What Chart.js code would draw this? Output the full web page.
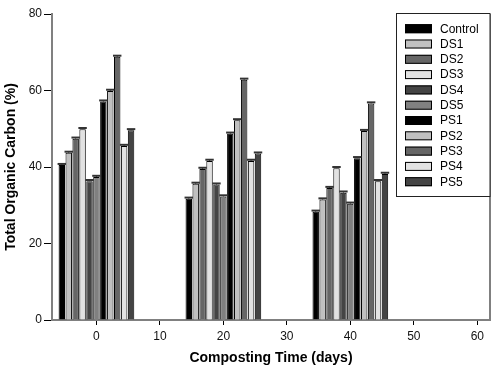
<!DOCTYPE html>
<html><head><meta charset="utf-8">
<script src="https://cdn.jsdelivr.net/npm/chart.js@4"></script>
<style>html,body{margin:0;padding:0;background:#fff}#wrap{width:500px;height:376px}</style>
</head><body><div id="wrap"><canvas id="c" width="500" height="376"></canvas></div>
<script>
const days = [0, 20, 40];
const seriesNames = ['Control','DS1','DS2','DS3','DS4','DS5','PS1','PS2','PS3','PS4','PS5'];
const control = [40.5, 31.7, 28.3];
const ds1 = [43.7, 35.6, 31.5];
const ds2 = [47.4, 39.5, 34.5];
const ds3 = [49.9, 41.6, 39.7];
const ds4 = [36.3, 35.4, 33.3];
const ds5 = [37.4, 32.3, 30.4];
const ps1 = [57.1, 48.7, 42.3];
const ps2 = [59.9, 52.2, 49.4];
const ps3 = [68.8, 62.8, 56.6];
const ps4 = [45.5, 41.6, 36.3];
const ps5 = [49.6, 43.5, 38.2];
const seriesValues = [control, ds1, ds2, ds3, ds4, ds5, ps1, ps2, ps3, ps4, ps5];
const seriesErrors = [
  [0.3,0.3,0.3],[0.3,0.3,0.3],[0.3,0.3,0.3],[0.3,0.3,0.3],[0.3,0.3,0.3],[0.3,0.3,0.3],
  [0.3,0.3,0.3],[0.3,0.3,0.3],[0.3,0.3,0.3],[0.3,0.3,0.3],[0.3,0.3,0.3]
];
const seriesColors = ['#000000','#c0c0c0','#666666','#e2e2e2','#444444','#808080','#000000','#c0c0c0','#666666','#e2e2e2','#444444'];
const xTicks = [0, 10, 20, 30, 40, 50, 60];
const yTicks = [0, 20, 40, 60, 80];
const FONT = "'Liberation Sans', Arial, sans-serif";

const datasets = seriesNames.map((name, i) => ({
  label: name,
  data: days.map((d, j) => ({x: d, y: seriesValues[i][j]})),
  errors: seriesErrors[i],
  backgroundColor: seriesColors[i],
  borderColor: '#000',
  borderWidth: 1,
  categoryPercentage: 1.2,
  barPercentage: 0.93
}));

const capsPlugin = {
  id: 'caps',
  afterDatasetsDraw(chart) {
    const ctx = chart.ctx, ys = chart.scales.y;
    ctx.save();
    chart.data.datasets.forEach((ds, i) => {
      const meta = chart.getDatasetMeta(i);
      meta.data.forEach((bar, j) => {
        const v = ds.data[j].y, e = ds.errors[j];
        const yTop = ys.getPixelForValue(v + e);
        const half = bar.width / 2 + 1;
        ctx.strokeStyle = '#333';
        ctx.lineWidth = 1;
        ctx.beginPath();
        ctx.moveTo(bar.x, ys.getPixelForValue(v));
        ctx.lineTo(bar.x, yTop);
        ctx.stroke();
        ctx.lineWidth = 2;
        ctx.beginPath();
        ctx.moveTo(bar.x - half, yTop);
        ctx.lineTo(bar.x + half, yTop);
        ctx.stroke();
      });
    });
    ctx.restore();
  }
};

const framePlugin = {
  id: 'frame',
  afterDraw(chart) {
    const ctx = chart.ctx, a = chart.chartArea;
    ctx.save();
    ctx.strokeStyle = '#808080';
    ctx.lineWidth = 2;
    ctx.beginPath();
    ctx.moveTo(a.right, a.top);
    ctx.lineTo(a.right, a.bottom);
    ctx.stroke();
    const x0 = 396.5, y0 = 13.5, x1 = a.right, y1 = 196.5;
    ctx.fillStyle = '#fff';
    ctx.fillRect(x0, y0, x1 - x0, y1 - y0);
    ctx.strokeStyle = '#222';
    ctx.lineWidth = 1;
    ctx.strokeRect(x0, y0, x1 - x0, y1 - y0);
    ctx.font = '12px ' + FONT;
    ctx.textBaseline = 'middle';
    ctx.textAlign = 'left';
    chart.data.datasets.forEach((ds, i) => {
      const cy = 28.7 + i * 15.3;
      ctx.fillStyle = ds.backgroundColor;
      ctx.fillRect(405, cy - 4.5, 27, 9);
      ctx.strokeStyle = '#000';
      ctx.strokeRect(405.5, cy - 4, 26, 8);
      ctx.fillStyle = '#000';
      ctx.fillText(ds.label, 440, cy + 0.5);
    });
    ctx.restore();
  }
};

new Chart(document.getElementById('c'), {
  type: 'bar',
  data: { datasets },
  options: {
    responsive: false,
    animation: false,
    layout: { padding: { top: 14, right: 10, left: 0, bottom: 0 } },
    plugins: { legend: { display: false }, tooltip: { enabled: false } },
    scales: {
      x: {
        type: 'linear',
        offset: false,
        min: -7, max: 62,
        afterBuildTicks: s => { s.ticks = xTicks.map(v => ({value: v})); },
        afterFit: s => { s.height = 56; },
        grid: { offset: false, drawOnChartArea: false, drawTicks: true, tickLength: 5, color: '#000' },
        border: { display: true, color: '#808080', width: 2 },
        ticks: { color: '#111', font: { family: FONT, size: 12 }, padding: 4, maxRotation: 0 },
        title: { display: true, text: 'Composting Time (days)', color: '#000',
                 font: { family: FONT, size: 14, weight: 'bold' }, padding: { top: 4, bottom: 9 } }
      },
      y: {
        min: 0, max: 80,
        afterBuildTicks: s => { s.ticks = yTicks.map(v => ({value: v})); },
        afterFit: s => { s.width = 52; },
        grid: { drawOnChartArea: false, drawTicks: true, tickLength: 8, color: '#000' },
        border: { display: true, color: '#808080', width: 2 },
        ticks: { color: '#111', font: { family: FONT, size: 12 }, padding: 2 },
        title: { display: true, text: 'Total Organic Carbon (%)', color: '#000',
                 font: { family: FONT, size: 14, weight: 'bold' }, padding: { top: 3, bottom: 0 } }
      }
    }
  },
  plugins: [capsPlugin, framePlugin]
});
</script>
</body></html>
